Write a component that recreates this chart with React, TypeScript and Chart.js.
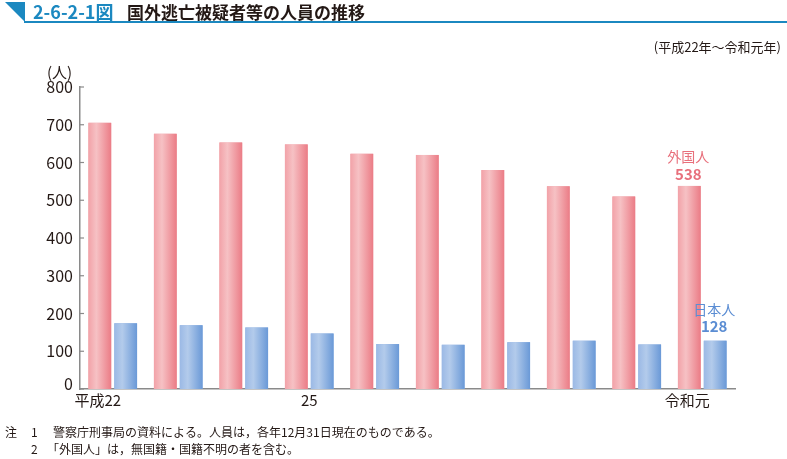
import React, { useEffect, useRef } from "react";
import { Chart, registerables } from "chart.js";

Chart.register(...registerables);

const categories = ["平成22", "23", "24", "25", "26", "27", "28", "29", "30", "令和元"];
const tickLabels = ["平成22", "", "", "25", "", "", "", "", "", "令和元"];
const foreignValues = [705, 676, 653, 648, 623, 620, 580, 537, 510, 538];
const japaneseValues = [174, 169, 163, 147, 119, 117, 124, 128, 118, 128];
const yTicks = [0, 100, 200, 300, 400, 500, 600, 700, 800];

const FONT = '"Noto Sans CJK JP", "Noto Sans", sans-serif';
const PINK = "#e8707c";
const BLUE = "#5b8dd3";
const BLUE_TITLE = "#1b88c0";
const DARK = "#231815";

const gradientPlugin = {
  id: "barGradient",
  afterDatasetsDraw(chart: any) {
    const ctx = chart.ctx;
    const stops = [
      ["#f2a2a8", "#f6c1c4", "#eb7c86"],
      ["#9bb9e5", "#b3cbeb", "#6a99d7"],
    ];
    chart.data.datasets.forEach((ds: any, di: number) => {
      const meta = chart.getDatasetMeta(di);
      meta.data.forEach((el: any) => {
        const { x, y, base, width } = el.getProps(["x", "y", "base", "width"], true);
        const l = x - width / 2;
        const g = ctx.createLinearGradient(l, 0, l + width, 0);
        g.addColorStop(0, stops[di][0]);
        g.addColorStop(0.35, stops[di][1]);
        g.addColorStop(1, stops[di][2]);
        ctx.save();
        ctx.fillStyle = g;
        ctx.fillRect(l, y, width, base - y);
        ctx.restore();
      });
    });
  },
};

const decorPlugin = {
  id: "decor",
  afterDraw(chart: any) {
    const ctx = chart.ctx;
    const area = chart.chartArea;
    const xs = chart.scales.x;
    const ys = chart.scales.y;
    ctx.save();
    // title triangle + line
    ctx.fillStyle = BLUE_TITLE;
    ctx.beginPath();
    ctx.moveTo(5, 2);
    ctx.lineTo(25, 2);
    ctx.lineTo(25, 22);
    ctx.closePath();
    ctx.fill();
    ctx.fillRect(24, 21, 763, 2);
    ctx.textBaseline = "alphabetic";
    ctx.textAlign = "left";
    ctx.font = `bold 18px ${FONT}`;
    ctx.fillStyle = BLUE_TITLE;
    ctx.fillText("2-6-2-1図", 33, 19);
    ctx.fillStyle = DARK;
    ctx.font = `bold 17px ${FONT}`;
    ctx.fillText("国外逃亡被疑者等の人員の推移", 127, 19);
    // subtitle
    ctx.font = `13px ${FONT}`;
    ctx.textAlign = "right";
    ctx.textBaseline = "middle";
    ctx.fillText("(平成22年～令和元年)", 781, 47);
    // zero label, raised above the axis line
    ctx.font = `16px ${FONT}`;
    ctx.fillText("0", area.left - 7, ys.getPixelForValue(0) - 5);
    // unit
    ctx.textAlign = "left";
    ctx.font = `15px ${FONT}`;
    ctx.fillText("(人)", 47, 72);
    // y tick marks (inward)
    ctx.strokeStyle = "#8a8a8a";
    ctx.lineWidth = 1.2;
    yTicks.forEach((v) => {
      const py = ys.getPixelForValue(v);
      ctx.beginPath();
      ctx.moveTo(area.left, py);
      ctx.lineTo(area.left + 4, py);
      ctx.stroke();
    });
    // x labels
    ctx.fillStyle = DARK;
    ctx.font = `15px ${FONT}`;
    ctx.textAlign = "center";
    const shifts = [-15, 0, 0, 0, 0, 0, 0, 0, 0, -15];
    tickLabels.forEach((t, i) => {
      if (!t) return;
      ctx.fillText(t, xs.getPixelForValue(i) + shifts[i], area.bottom + 11);
    });
    // annotations
    const last = categories.length - 1;
    const fEl = chart.getDatasetMeta(0).data[last];
    const jEl = chart.getDatasetMeta(1).data[last];
    ctx.font = `14px ${FONT}`;
    ctx.fillStyle = PINK;
    ctx.fillText("外国人", fEl.x - 1, fEl.y - 29);
    ctx.font = `bold 15px ${FONT}`;
    ctx.fillText(String(foreignValues[last]), fEl.x - 1, fEl.y - 12);
    ctx.font = `14px ${FONT}`;
    ctx.fillStyle = BLUE;
    ctx.fillText("日本人", jEl.x - 1, jEl.y - 31);
    ctx.font = `bold 15px ${FONT}`;
    ctx.fillText(String(japaneseValues[last]), jEl.x - 1, jEl.y - 14);
    // notes
    ctx.fillStyle = DARK;
    ctx.textAlign = "left";
    ctx.font = `12px ${FONT}`;
    ctx.fillText("注", 5, 432);
    ctx.fillText("1", 31, 432);
    ctx.fillText("警察庁刑事局の資料による。人員は，各年12月31日現在のものである。", 53, 432);
    ctx.fillText("2", 31, 449);
    ctx.fillText("「外国人」は，無国籍・国籍不明の者を含む。", 47, 449);
    ctx.restore();
  },
};

export default function App() {
  const ref = useRef<HTMLCanvasElement>(null);
  useEffect(() => {
    if (!ref.current) return;
    const chart = new Chart(ref.current, {
      type: "bar",
      data: {
        labels: categories,
        datasets: [
          {
            label: "外国人",
            data: foreignValues,
            backgroundColor: "#f0a0a6",
            categoryPercentage: 0.79,
            barPercentage: 0.88,
          },
          {
            label: "日本人",
            data: japaneseValues,
            backgroundColor: "#8fb1e2",
            categoryPercentage: 0.79,
            barPercentage: 0.88,
          },
        ],
      },
      options: {
        animation: false,
        responsive: false,
        maintainAspectRatio: false,
        layout: { padding: { top: 87, left: 0, right: 52, bottom: 70 } },
        plugins: {
          legend: { display: false },
          tooltip: { enabled: false },
          title: { display: false },
        },
        scales: {
          x: {
            grid: { display: false, drawTicks: false },
            border: { display: true, color: "#8a8a8a", width: 1.5 },
            ticks: { display: false },
            afterFit: (s: any) => {
              s.height = 0;
            },
          },
          y: {
            min: 0,
            max: 800,
            grid: { display: false, drawTicks: false },
            border: { display: true, color: "#8a8a8a", width: 1.5 },
            ticks: {
              stepSize: 100,
              padding: 7,
              color: DARK,
              font: { family: FONT, size: 16 },
              callback: (v: any) => (Number(v) === 0 ? "" : String(v)),
            },
            afterFit: (s: any) => {
              s.width = 80;
            },
          },
        },
      },
      plugins: [gradientPlugin, decorPlugin],
    });
    return () => chart.destroy();
  }, []);
  return (
    <div style={{ position: "fixed", left: 0, top: 0, width: 787, height: 459, background: "#fff" }}>
      <canvas ref={ref} width={787} height={459} style={{ width: 787, height: 459 }} />
    </div>
  );
}
